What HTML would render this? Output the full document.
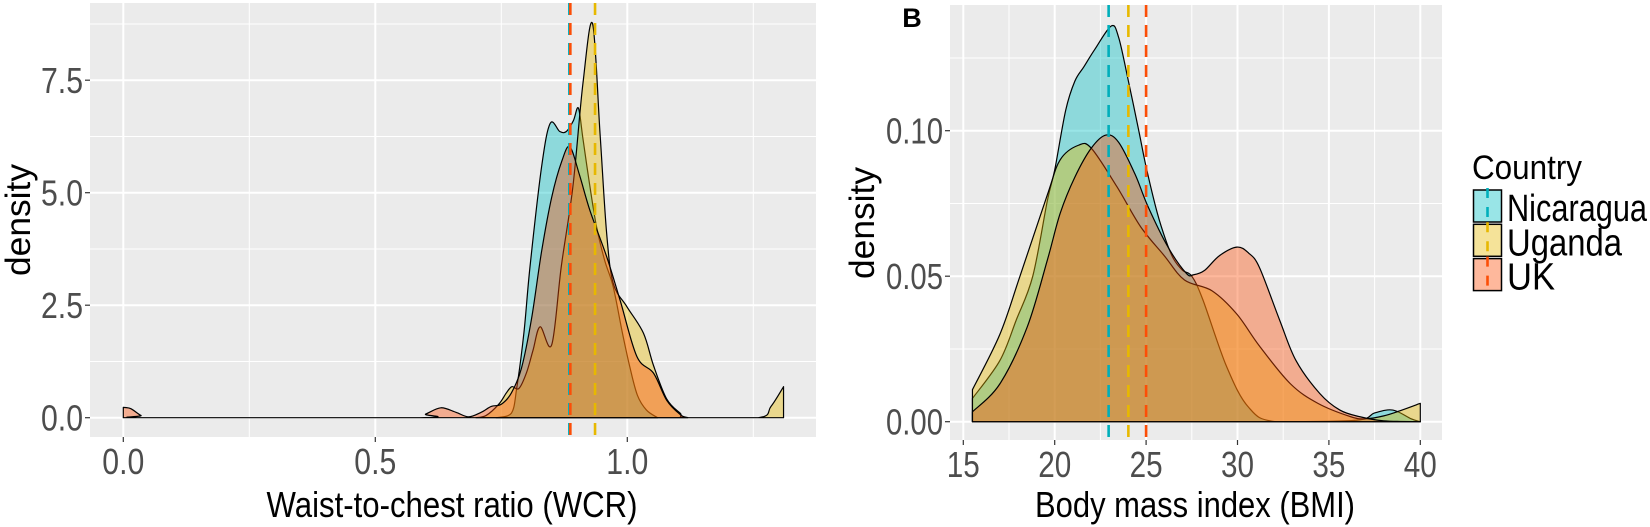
<!DOCTYPE html>
<html><head><meta charset="utf-8">
<style>
html,body{margin:0;padding:0;background:#fff;width:1650px;height:527px;overflow:hidden}
svg{display:block}
text{font-family:"Liberation Sans",Arial,sans-serif}
</style></head>
<body>
<svg id="chart" width="1650" height="527" viewBox="0 0 1650 527" xmlns="http://www.w3.org/2000/svg">
  <g id="panelA"></g>
  <g id="panelB"></g>
  <text x="912" y="27" font-size="27" font-weight="bold" text-anchor="middle" fill="#000">B</text>
  <g id="legend"></g>
</svg>
<script>
// ---- Panel A: Waist-to-chest ratio ----
const wcrXTicks = [0.0, 0.5, 1.0];
const wcrXTickLabels = ["0.0", "0.5", "1.0"];
const wcrYTicks = [0, 2.5, 5.0, 7.5];
const wcrYTickLabels = ["0.0", "2.5", "5.0", "7.5"];
const wcrNicX = [0.74, 0.77, 0.781, 0.795, 0.807, 0.83, 0.847, 0.866, 0.879, 0.893, 0.903, 0.912, 0.925, 0.939, 0.955, 0.972, 0.99, 1.005, 1.02, 1.038, 1.06];
const wcrNicY = [0, 0.1, 0.69, 1.9, 3.36, 5.58, 6.54, 6.36, 6.36, 6.6, 6.88, 6.2, 5.2, 4.24, 3.5, 2.91, 1.9, 1.13, 0.5, 0.17, 0];
const wcrUgaX = [0.70, 0.72, 0.745, 0.76, 0.771, 0.785, 0.80, 0.813, 0.827, 0.85, 0.869, 0.892, 0.912, 0.931, 0.946, 0.959, 0.972, 0.999, 1.032, 1.052, 1.078, 1.105, 1.12, 1.26, 1.285, 1.31];
const wcrUgaY = [0, 0.05, 0.3, 0.55, 0.69, 0.65, 1.0, 1.5, 2.02, 1.62, 3.36, 5.13, 7.43, 8.76, 6.3, 4.1, 2.99, 2.47, 1.88, 1.16, 0.42, 0.1, 0, 0, 0.25, 0.69];
const wcrUkX = [0.0, 0.015, 0.035, 0.05, 0.58, 0.60, 0.63, 0.66, 0.685, 0.71, 0.73, 0.75, 0.77, 0.79, 0.81, 0.83, 0.85, 0.87, 0.886, 0.905, 0.926, 0.959, 0.986, 1.019, 1.052, 1.078, 1.105, 1.12];
const wcrUkY = [0.23, 0.2, 0.05, 0, 0, 0.08, 0.22, 0.12, 0.02, 0.12, 0.25, 0.3, 0.55, 1.1, 2.2, 3.7, 4.9, 5.7, 6.02, 5.4, 4.6, 3.58, 2.6, 1.36, 0.99, 0.39, 0.07, 0];
const wcrMeans = [0.885, 0.936, 0.887];

// ---- Panel B: Body mass index ----
const bmiXTicks = [15, 20, 25, 30, 35, 40];
const bmiXTickLabels = ["15", "20", "25", "30", "35", "40"];
const bmiYTicks = [0, 0.05, 0.10];
const bmiYTickLabels = ["0.00", "0.05", "0.10"];
const bmiNicX = [15.5, 17.0, 17.9, 18.8, 19.6, 20.0, 20.6, 21.1, 21.6, 22.2, 23.1, 23.5, 24.0, 24.6, 25.0, 25.6, 26.1, 26.5, 27.0, 27.5, 28.1, 29.4, 30.6, 32.1, 36.5, 37.5, 38.5, 39.5, 40];
const bmiNicY = [0.008, 0.021, 0.035, 0.050, 0.076, 0.0865, 0.107, 0.117, 0.122, 0.128, 0.136, 0.132, 0.118, 0.100, 0.0876, 0.072, 0.062, 0.056, 0.052, 0.050, 0.042, 0.019, 0.005, 0, 0.0005, 0.003, 0.004, 0.001, 0];
const bmiUgaX = [15.5, 17.0, 18.1, 19.6, 20.3, 21.3, 22.0, 23.4, 24.7, 26.0, 27.1, 28.6, 29.96, 31.2, 32.9, 34.4, 36.2, 37.0, 38.0, 39.0, 40.0];
const bmiUgaY = [0.011, 0.030, 0.050, 0.078, 0.090, 0.095, 0.094, 0.0808, 0.067, 0.057, 0.0487, 0.045, 0.037, 0.026, 0.013, 0.0063, 0.0017, 0.001, 0.002, 0.004, 0.0063];
const bmiUkX = [15.5, 17.0, 18.5, 19.6, 20.3, 21.1, 22.0, 22.8, 23.5, 24.4, 25.1, 26.2, 27.2, 27.6, 28.2, 29.0, 29.96, 30.6, 31.2, 32.3, 33.2, 34.5, 35.6, 36.7, 38.0, 40.0];
const bmiUkY = [0.0034, 0.013, 0.0326, 0.0556, 0.0716, 0.084, 0.094, 0.0985, 0.096, 0.085, 0.074, 0.060, 0.051, 0.0505, 0.052, 0.057, 0.060, 0.058, 0.053, 0.035, 0.021, 0.0097, 0.004, 0.0017, 0.0003, 0];
const bmiMeans = [22.95, 24.03, 25.0];

const seriesNames = ["Nicaragua", "Uganda", "UK"];
const fillColors = ["#00BFC4", "#E7B800", "#FC4E07"];
const lineColors = ["#00AFBB", "#E7B800", "#FC4E07"];

const NS = "http://www.w3.org/2000/svg";
function mk(tag, attrs, parent) {
  const e = document.createElementNS(NS, tag);
  for (const k in attrs) e.setAttribute(k, attrs[k]);
  parent.appendChild(e);
  return e;
}
function smoothPath(pts, base) {
  let d = "M" + pts[0][0].toFixed(2) + "," + pts[0][1].toFixed(2);
  for (let i = 0; i < pts.length - 1; i++) {
    const p0 = pts[i - 1] || pts[i], p1 = pts[i], p2 = pts[i + 1], p3 = pts[i + 2] || p2;
    const c1x = p1[0] + (p2[0] - p0[0]) / 6, c1y = Math.min(base, p1[1] + (p2[1] - p0[1]) / 6);
    const c2x = p2[0] - (p3[0] - p1[0]) / 6, c2y = Math.min(base, p2[1] - (p3[1] - p1[1]) / 6);
    d += "C" + c1x.toFixed(2) + "," + c1y.toFixed(2) + " " + c2x.toFixed(2) + "," + c2y.toFixed(2) + " " + p2[0].toFixed(2) + "," + p2[1].toFixed(2);
  }
  return d;
}

function drawPanel(g, cfg) {
  const sx = v => cfg.x0 + (v - cfg.xv0) * cfg.xk;
  const sy = v => cfg.y0 - v * cfg.yk;
  const bg = mk("rect", {x: cfg.left, y: cfg.top, width: cfg.right - cfg.left, height: cfg.bottom - cfg.top, fill: "#EBEBEB"}, g);
  
  
  for (let i = 0; i < cfg.xTicks.length + 1; i++) {
    const v = cfg.xTicks[0] + (i - 0.5) * (cfg.xTicks[1] - cfg.xTicks[0]);
    const x = sx(v);
    if (x <= cfg.left || x >= cfg.right) continue;
    const l = mk("line", {x1: x, x2: x, y1: cfg.top, y2: cfg.bottom, stroke: "#fff", "stroke-width": 1}, g);
    
    
  }
  for (let i = 0; i < cfg.yTicks.length + 1; i++) {
    const v = cfg.yTicks[0] + (i - 0.5) * (cfg.yTicks[1] - cfg.yTicks[0]);
    const y = sy(v);
    if (y <= cfg.top || y >= cfg.bottom) continue;
    const l = mk("line", {x1: cfg.left, x2: cfg.right, y1: y, y2: y, stroke: "#fff", "stroke-width": 1}, g);
    
    
  }
  cfg.xTicks.forEach((v, i) => {
    const x = sx(v);
    const l = mk("line", {x1: x, x2: x, y1: cfg.top, y2: cfg.bottom, stroke: "#fff", "stroke-width": 2}, g);
    
    
    const t = mk("line", {x1: x, x2: x, y1: cfg.bottom, y2: cfg.bottom + 5, stroke: "#333", "stroke-width": 1.2}, g);
    
    
    const lab = mk("text", {x: x, y: cfg.bottom + 37, "font-size": 36, fill: "#4D4D4D", "text-anchor": "middle", textLength: cfg.xLabW * cfg.xLabels[i].length, lengthAdjust: "spacingAndGlyphs"}, g);
    lab.textContent = cfg.xLabels[i];
    
    
  });
  cfg.yTicks.forEach((v, i) => {
    const y = sy(v);
    const l = mk("line", {x1: cfg.left, x2: cfg.right, y1: y, y2: y, stroke: "#fff", "stroke-width": 2}, g);
    
    
    const t = mk("line", {x1: cfg.left - 5, x2: cfg.left, y1: y, y2: y, stroke: "#333", "stroke-width": 1.2}, g);
    
    
    const lab = mk("text", {x: cfg.left - 7, y: y + 13, "font-size": 36, fill: "#4D4D4D", "text-anchor": "end", textLength: cfg.yLabW, lengthAdjust: "spacingAndGlyphs"}, g);
    lab.textContent = cfg.yLabels[i];
    
    
  });
  cfg.series.forEach((s, i) => {
    const pts = s.x.map((v, j) => [sx(v), sy(s.y[j])]);
    let d = smoothPath(pts, sy(0));
    d += "L" + sx(s.x[s.x.length - 1]).toFixed(2) + "," + sy(0) + "L" + sx(s.x[0]).toFixed(2) + "," + sy(0) + "Z";
    const p = mk("path", {d: d, fill: fillColors[i], "fill-opacity": 0.4, stroke: "#000", "stroke-width": 1.2, "stroke-linejoin": "round"}, g);
    
    
  });
  cfg.means.forEach((m, i) => {
    const x = sx(m);
    const l = mk("line", {x1: x, x2: x, y1: cfg.top, y2: cfg.bottom, stroke: lineColors[i], "stroke-width": 2.6, "stroke-dasharray": "12,8"}, g);
    
    
  });
  const xt = mk("text", {x: cfg.xTitleX, y: 517, "font-size": 36, fill: "#000", "text-anchor": "middle", textLength: cfg.xTitleW, lengthAdjust: "spacingAndGlyphs"}, g);
  xt.textContent = cfg.xTitle;
  
  
  const yt = mk("text", {x: 0, y: 0, "font-size": 35, fill: "#000", "text-anchor": "middle", transform: "translate(" + cfg.yTitleX + "," + cfg.yTitleY + ") rotate(-90)", textLength: 112, lengthAdjust: "spacingAndGlyphs"}, g);
  yt.textContent = "density";
  
  
}

drawPanel(document.getElementById("panelA"), {
  left: 90, right: 816, top: 3, bottom: 437,
  x0: 123.3, xv0: 0, xk: 504, y0: 417.7, yk: 45,
  xTicks: wcrXTicks, xLabels: wcrXTickLabels, yTicks: wcrYTicks, yLabels: wcrYTickLabels,
  xLabW: 14, yLabW: 42,
  series: [{x: wcrNicX, y: wcrNicY}, {x: wcrUgaX, y: wcrUgaY}, {x: wcrUkX, y: wcrUkY}],
  means: wcrMeans,
  xTitle: "Waist-to-chest ratio (WCR)", xTitleX: 452, xTitleW: 371,
  yTitleX: 30, yTitleY: 220
});
drawPanel(document.getElementById("panelB"), {
  left: 950, right: 1442, top: 5, bottom: 440,
  x0: 963.3, xv0: 15, xk: 18.28, y0: 421.7, yk: 2910,
  xTicks: bmiXTicks, xLabels: bmiXTickLabels, yTicks: bmiYTicks, yLabels: bmiYTickLabels,
  xLabW: 16.5, yLabW: 57,
  series: [{x: bmiNicX, y: bmiNicY}, {x: bmiUgaX, y: bmiUgaY}, {x: bmiUkX, y: bmiUkY}],
  means: bmiMeans,
  xTitle: "Body mass index (BMI)", xTitleX: 1195, xTitleW: 320,
  yTitleX: 874, yTitleY: 223
});

const lg = document.getElementById("legend");
const lt = mk("text", {x: 1472, y: 179, "font-size": 34, fill: "#000", textLength: 110, lengthAdjust: "spacingAndGlyphs"}, lg);
lt.textContent = "Country";


const legendLabelW = [140, 115, 48];
seriesNames.forEach((n, i) => {
  const y = 190 + i * 34.3;
  const bgk = mk("rect", {x: 1473.5, y: y, width: 28, height: 32, fill: "#fff"}, lg);
  
  
  const r = mk("rect", {x: 1473.5, y: y, width: 28, height: 32, fill: fillColors[i], "fill-opacity": 0.4, stroke: "#000", "stroke-width": 1.5}, lg);
  
  
  const dl = mk("line", {x1: 1487.5, x2: 1487.5, y1: y - 4, y2: y + 34, stroke: lineColors[i], "stroke-width": 2.6, "stroke-dasharray": "10,9", "stroke-dashoffset": "-2"}, lg);
  
  
  const t = mk("text", {x: 1507, y: y + 31, "font-size": 38, fill: "#000", textLength: legendLabelW[i], lengthAdjust: "spacingAndGlyphs"}, lg);
  t.textContent = n;
  
  
});
</script>
</body></html>
